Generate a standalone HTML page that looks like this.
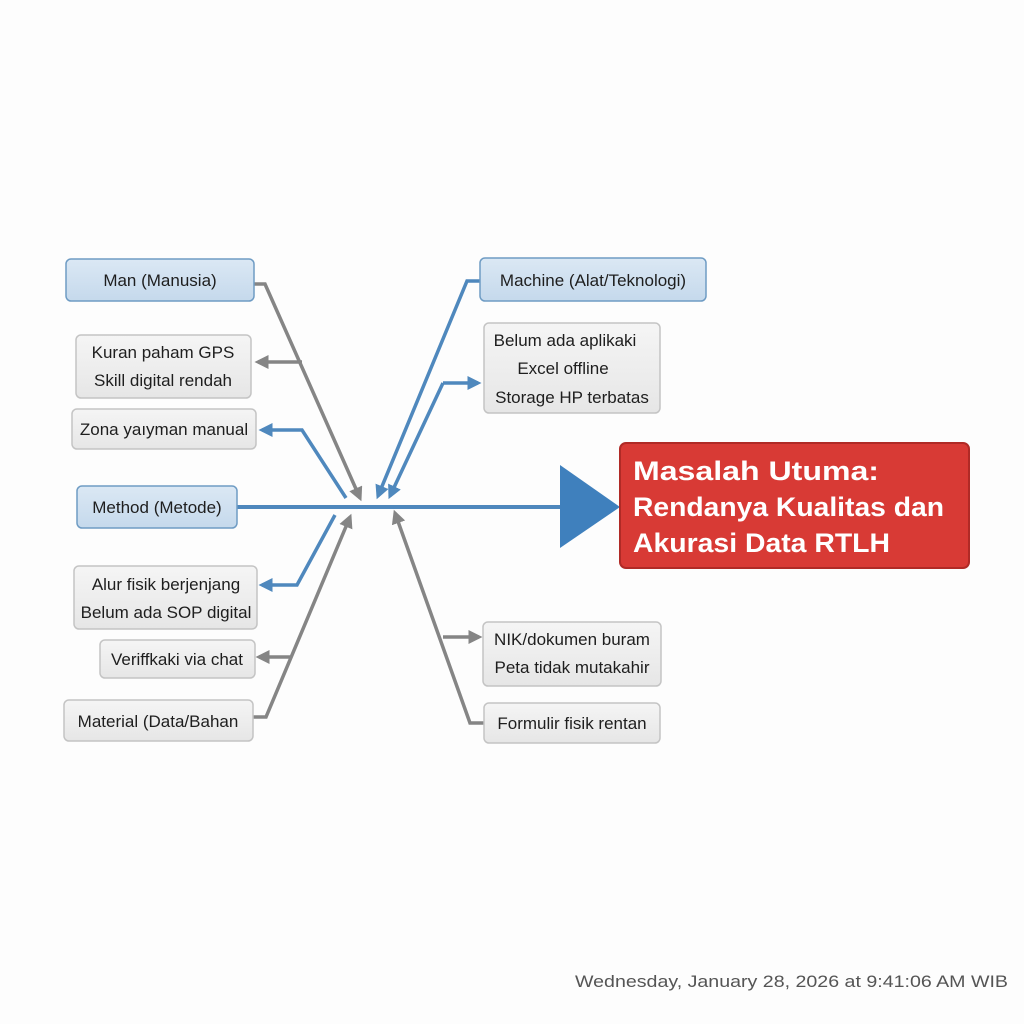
<!DOCTYPE html>
<html><head><meta charset="utf-8"><style>
html,body{margin:0;padding:0;background:#fff}
svg{display:block}
text{font-family:"Liberation Sans",sans-serif}
</style></head><body>
<svg width="1024" height="1024" viewBox="0 0 1024 1024" xmlns="http://www.w3.org/2000/svg">
<defs>
<marker id="ag" markerWidth="4" markerHeight="4" refX="3" refY="2" orient="auto" markerUnits="strokeWidth"><path d="M0,0 L4,2 L0,4 z" fill="#858585"/></marker>
<marker id="ab" markerWidth="4" markerHeight="4" refX="3" refY="2" orient="auto" markerUnits="strokeWidth"><path d="M0,0 L4,2 L0,4 z" fill="#4f88bd"/></marker>
<linearGradient id="gb" x1="0" y1="0" x2="0" y2="1"><stop offset="0" stop-color="#dbe8f4"/><stop offset="1" stop-color="#c5d9ec"/></linearGradient>
<linearGradient id="gg" x1="0" y1="0" x2="0" y2="1"><stop offset="0" stop-color="#f5f5f5"/><stop offset="1" stop-color="#e6e6e6"/></linearGradient>
</defs>
<rect width="1024" height="1024" fill="#fdfdfd"/>

<!-- spine -->
<line x1="237" y1="507" x2="562" y2="507" stroke="#4f88bd" stroke-width="4"/>
<polygon points="560,465 560,548 620,507" fill="#3f80bd"/>

<!-- connectors gray -->
<g fill="none" stroke="#858585" stroke-width="3.5" stroke-linejoin="miter">
<polyline points="254,284 265,284 360,498" marker-end="url(#ag)"/>
<line x1="302" y1="362" x2="258" y2="362" marker-end="url(#ag)"/>
<polyline points="253,717 266,717 350,517" marker-end="url(#ag)"/>
<line x1="290" y1="657" x2="259" y2="657" marker-end="url(#ag)"/>
<polyline points="484,723 470,723 395,513" marker-end="url(#ag)"/>
<line x1="443" y1="637" x2="479" y2="637" marker-end="url(#ag)"/>
</g>
<!-- connectors blue -->
<g fill="none" stroke="#4f88bd" stroke-width="3.5">
<polyline points="480,281 467,281 378,496" marker-end="url(#ab)"/>
<polyline points="443,383 390,496" marker-end="url(#ab)"/>
<line x1="443" y1="383" x2="478" y2="383" marker-end="url(#ab)"/>
<polyline points="346,498 302,430 262,430" marker-end="url(#ab)"/>
<polyline points="335,515 297,585 262,585" marker-end="url(#ab)"/>
</g>

<!-- category boxes -->
<g stroke="#6f9cc4" stroke-width="1.5" fill="url(#gb)">
<rect x="66" y="259" width="188" height="42" rx="5"/>
<rect x="77" y="486" width="160" height="42" rx="5"/>
<rect x="480" y="258" width="226" height="43" rx="5"/>
</g>
<g stroke="#c4c4c4" stroke-width="1.5" fill="url(#gg)">
<rect x="76" y="335" width="175" height="63" rx="5"/>
<rect x="72" y="409" width="184" height="40" rx="5"/>
<rect x="74" y="566" width="183" height="63" rx="5"/>
<rect x="100" y="640" width="155" height="38" rx="5"/>
<rect x="64" y="700" width="189" height="41" rx="5"/>
<rect x="484" y="323" width="176" height="90" rx="5"/>
<rect x="483" y="622" width="178" height="64" rx="5"/>
<rect x="484" y="703" width="176" height="40" rx="5"/>
</g>

<g font-size="17" fill="#1e1e1e" text-anchor="middle">
<text x="160" y="286">Man (Manusia)</text>
<text x="157" y="513">Method (Metode)</text>
<text x="593" y="286">Machine (Alat/Teknologi)</text>
<text x="163" y="358">Kuran paham GPS</text>
<text x="163" y="386">Skill digital rendah</text>
<text x="164" y="435">Zona yaıyman manual</text>
<text x="166" y="590">Alur fisik berjenjang</text>
<text x="166" y="618">Belum ada SOP digital</text>
<text x="177" y="665">Veriffkaki via chat</text>
<text x="158" y="727">Material (Data/Bahan</text>
<text x="565" y="346">Belum ada aplikaki</text>
<text x="563" y="374">Excel offline</text>
<text x="572" y="403">Storage HP terbatas</text>
<text x="572" y="645">NIK/dokumen buram</text>
<text x="572" y="673">Peta tidak mutakahir</text>
<text x="572" y="729">Formulir fisik rentan</text>
</g>

<!-- main problem -->
<rect x="620" y="443" width="349" height="125" rx="6" fill="#d83a35" stroke="#b02a26" stroke-width="2"/>
<g font-size="27" font-weight="bold" fill="#fff">
<text x="633" y="480" textLength="246" lengthAdjust="spacingAndGlyphs">Masalah Utuma:</text>
<text x="633" y="516" textLength="311" lengthAdjust="spacingAndGlyphs">Rendanya Kualitas dan</text>
<text x="633" y="552" textLength="257" lengthAdjust="spacingAndGlyphs">Akurasi Data RTLH</text>
</g>

<text x="575" y="987" font-size="17" fill="#555" textLength="433" lengthAdjust="spacingAndGlyphs">Wednesday, January 28, 2026 at 9:41:06 AM WIB</text>
</svg>
</body></html>
